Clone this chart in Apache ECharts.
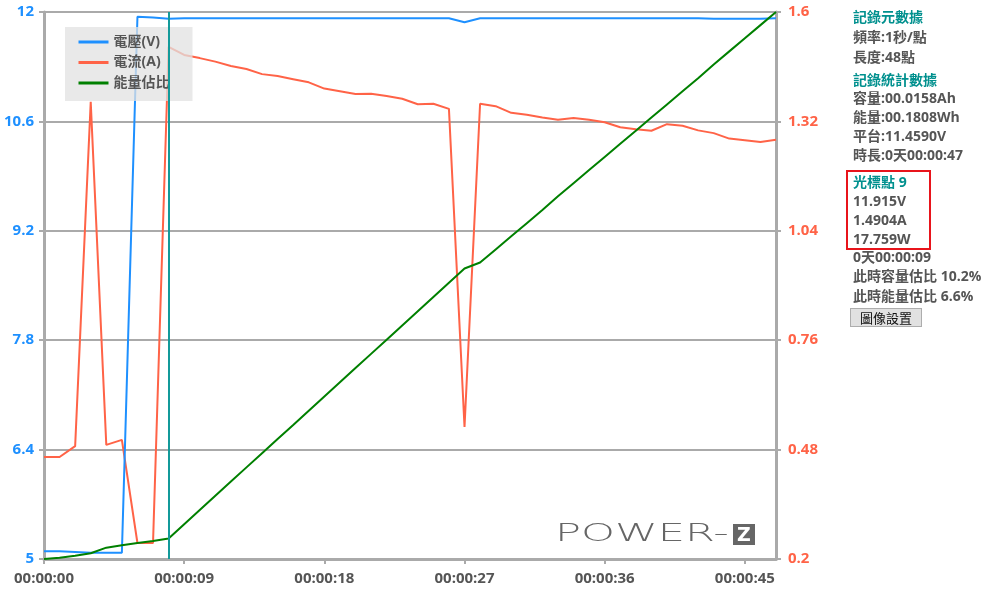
<!DOCTYPE html>
<html><head><meta charset="utf-8">
<script src="https://cdn.jsdelivr.net/npm/echarts@6/dist/echarts.min.js"></script>
<style>
html,body{margin:0;padding:0;background:#fff;}
#chart{position:absolute;left:0;top:0;width:988px;height:589px;}
.t{position:absolute;left:853px;font-family:"Open Sans","Noto Sans CJK TC",sans-serif;font-size:14px;font-weight:bold;color:#555;line-height:20px;white-space:nowrap;}
.h{color:#00908e;}
#box{position:absolute;left:846px;top:170px;width:81px;height:76px;border:2px solid #e8141b;}
#btn{position:absolute;left:850px;top:308px;width:70px;height:17px;background:#e1e1e1;border:1px solid #adadad;font-family:"Noto Sans CJK TC",sans-serif;font-size:13px;line-height:17px;text-align:center;color:#111;}
#logo{position:absolute;left:555px;top:519px;font-family:"DejaVu Sans",sans-serif;font-weight:300;font-size:24px;color:#666;transform-origin:0 0;transform:scaleX(1.8);white-space:nowrap;}
#zbox{position:absolute;left:733px;top:524px;width:22px;height:21px;background:#666;color:#fff;font-family:"DejaVu Sans",sans-serif;font-size:19px;line-height:21px;text-align:center;font-weight:bold;}
</style></head>
<body>
<div id="chart"></div>
<div class="t h" style="top:7px">記錄元數據</div>
<div class="t" style="top:27px">頻率:1秒/點</div>
<div class="t" style="top:47px">長度:48點</div>
<div class="t h" style="top:70px">記錄統計數據</div>
<div class="t" style="top:88px">容量:00.0158Ah</div>
<div class="t" style="top:107px">能量:00.1808Wh</div>
<div class="t" style="top:126px">平台:11.4590V</div>
<div class="t" style="top:145px">時長:0天00:00:47</div>
<div id="box"></div>
<div class="t h" style="top:172px">光標點 9</div>
<div class="t" style="top:191px">11.915V</div>
<div class="t" style="top:210px">1.4904A</div>
<div class="t" style="top:229px">17.759W</div>
<div class="t" style="top:247px">0天00:00:09</div>
<div class="t" style="top:266px">此時容量估比 10.2%</div>
<div class="t" style="top:286px">此時能量估比 6.6%</div>
<div id="btn">圖像設置</div>
<div id="logo">POWER-</div>
<div id="zbox">Z</div>
<script>
const seconds = [0,1,2,3,4,5,6,7,8,9,10,11,12,13,14,15,16,17,18,19,20,21,22,23,24,25,26,27,28,29,30,31,32,33,34,35,36,37,38,39,40,41,42,43,44,45,46,47];
const voltage = [5.10,5.10,5.09,5.08,5.08,5.08,11.94,11.93,11.915,11.92,11.92,11.92,11.92,11.92,11.92,11.92,11.92,11.92,11.92,11.92,11.92,11.92,11.92,11.92,11.92,11.92,11.92,11.87,11.92,11.92,11.92,11.92,11.92,11.92,11.92,11.92,11.92,11.92,11.92,11.92,11.92,11.92,11.92,11.915,11.915,11.915,11.915,11.92];
const current = [0.461,0.461,0.489,1.370,0.492,0.505,0.241,0.241,1.511,1.490,1.482,1.473,1.462,1.454,1.441,1.436,1.428,1.420,1.404,1.397,1.390,1.391,1.385,1.378,1.364,1.365,1.352,0.538,1.365,1.359,1.342,1.337,1.330,1.324,1.329,1.324,1.318,1.305,1.300,1.296,1.313,1.309,1.297,1.290,1.276,1.272,1.267,1.273];
const energyRatio = [0,0.24,0.6,1.04,2.07,2.5,2.93,3.29,3.75,6.35,8.95,11.55,14.15,16.75,19.35,21.95,24.5,27.1,29.7,32.3,34.9,37.5,40.1,42.7,45.3,47.9,50.5,53.1,54.2,56.6,59.0,61.4,63.8,66.3,68.7,71.1,73.5,75.9,78.3,80.7,83.1,85.5,87.9,90.4,92.8,95.2,97.6,100];
const cursorIndex = 8;
const seriesNames = ['電壓(V)','電流(A)','能量佔比'];

function pairs(arr){ return seconds.map((s,i)=>[s,arr[i]]); }
function hms(v){
  const h=Math.floor(v/3600), m=Math.floor((v%3600)/60), s=Math.round(v%60);
  const p=n=>String(n).padStart(2,'0');
  return p(h)+':'+p(m)+':'+p(s);
}
const font = '"Open Sans","Noto Sans CJK TC",sans-serif';
const chart = echarts.init(document.getElementById('chart'));
chart.setOption({
  animation:false,
  backgroundColor:'#fff',
  grid:{left:44,right:212,top:12,bottom:30},
  legend:{
    orient:'vertical', left:65, top:27,
    padding:[8,23,11,12], itemGap:6.5, itemWidth:30, itemHeight:14,
    backgroundColor:'rgba(225,225,225,0.75)',
    itemStyle:{opacity:0},
    lineStyle:{width:3},
    textStyle:{color:'#555',fontSize:14,fontWeight:'bold',fontFamily:font},
    data:seriesNames
  },
  xAxis:{
    type:'value', min:0, max:47, interval:9,
    axisLine:{lineStyle:{color:'#aaa',width:3}},
    axisTick:{show:true,length:5,lineStyle:{color:'#aaa',width:2}},
    splitLine:{show:false},
    axisLabel:{formatter:hms,color:'#555',fontSize:15,fontWeight:'bold',fontFamily:font,margin:12,showMaxLabel:false}
  },
  yAxis:[
    {type:'value',min:5,max:12,interval:1.4,position:'left',
     axisLine:{show:true,lineStyle:{color:'#aaa',width:3}},
     axisTick:{show:true,length:5,lineStyle:{color:'#aaa',width:2}},
     splitLine:{show:true,lineStyle:{color:'#aaa',width:2}},
     axisLabel:{color:'#1e90ff',fontSize:15,fontWeight:'bold',fontFamily:font,margin:10}},
    {type:'value',min:0.2,max:1.6,interval:0.28,position:'right',
     axisLine:{show:true,lineStyle:{color:'#aaa',width:3}},
     axisTick:{show:true,length:5,lineStyle:{color:'#aaa',width:2}},
     splitLine:{show:false},
     axisLabel:{color:'#ff6347',fontSize:15,fontWeight:'bold',fontFamily:font,margin:12}},
    {type:'value',min:0,max:100,show:false}
  ],
  series:[
    {name:seriesNames[0],type:'line',yAxisIndex:0,data:pairs(voltage),symbol:'none',
     itemStyle:{color:'#1e90ff'},lineStyle:{color:'#1e90ff',width:2},z:3,
     markLine:{silent:true,symbol:'none',label:{show:false},
       lineStyle:{color:'#139a9a',width:2,type:'solid'},data:[{xAxis:seconds[cursorIndex]}]}},
    {name:seriesNames[1],type:'line',yAxisIndex:1,data:pairs(current),symbol:'none',
     itemStyle:{color:'#ff6347'},lineStyle:{color:'#ff6347',width:2},z:2},
    {name:seriesNames[2],type:'line',yAxisIndex:2,data:pairs(energyRatio),symbol:'none',
     itemStyle:{color:'#008000'},lineStyle:{color:'#008000',width:2},z:4}
  ]
});
</script>
</body></html>
